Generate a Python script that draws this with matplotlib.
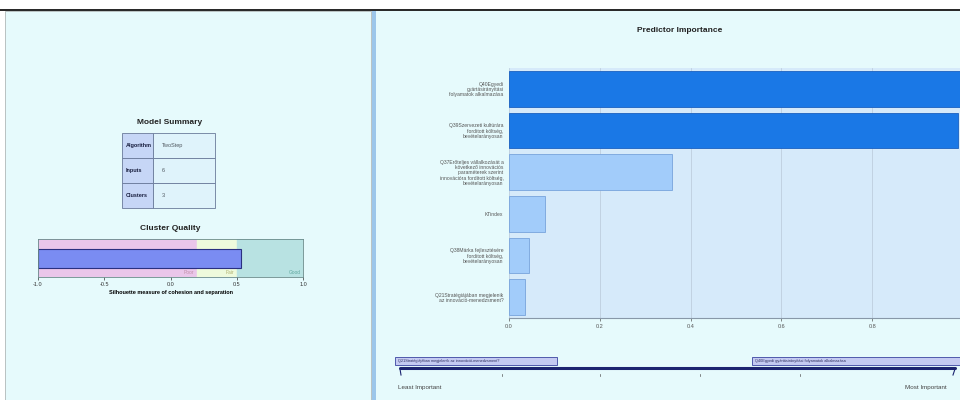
import matplotlib
matplotlib.use("Agg")
import matplotlib.pyplot as plt
from matplotlib.patches import Rectangle

plt.rcParams["font.family"] = ["Liberation Sans", "DejaVu Sans"]

W, H = 960, 400

# --- data -------------------------------------------------------------
predictors = [
    "Q40Egyedi\ngyártásirányítási\nfolyamatok alkalmazása",
    "Q39Szervezeti kultúrára\nfordított költség,\nbevételarányosan",
    "Q37Erőteljes vállalkozását a\nkövetkező innovációs\nparaméterek szerint\ninnovációra fordított költség,\nbevételarányosan",
    "KTindex",
    "Q38Márka fejlesztésére\nfordított költség,\nbevételarányosan",
    "Q21Stratégiájában megjelenik\naz innováció-menedzsment?",
]
importance = [1.0, 0.99, 0.36, 0.08, 0.045, 0.035]
imp_ticks = [0.0, 0.2, 0.4, 0.6, 0.8]

summary_rows = ["Algorithm", "Inputs", "Clusters"]
summary_vals = ["TwoStep", "6", "3"]

silhouette = 0.53
quality_bands = [("Poor", -1.0, 0.2), ("Fair", 0.2, 0.5), ("Good", 0.5, 1.0)]
quality_ticks = [-1.0, -0.5, 0.0, 0.5, 1.0]

slider_ticks = [502, 600, 700, 800]

BG = "#e6fafc"
DARK = "#1a78e6"
LIGHT = "#a2ccfa"


def px_axes(fig, x0, y0, x1, y1, **kw):
    return fig.add_axes([x0 / W, 1 - y1 / H, (x1 - x0) / W, (y1 - y0) / H], **kw)


fig = plt.figure(figsize=(W / 100, H / 100), dpi=100, facecolor="white")

# overlay for panels, table and slider (pixel coordinates)
ov = px_axes(fig, 0, 0, W, H)
ov.set_xlim(0, W)
ov.set_ylim(H, 0)
ov.axis("off")
ov.plot([0, W], [10, 10], color="black", lw=1.2)
ov.add_patch(Rectangle((5, 11), 366, 389, facecolor=BG, edgecolor="#b0b8b8", lw=0.6))
ov.add_patch(Rectangle((376, 11), 584, 389, facecolor=BG, edgecolor="none"))
ov.add_patch(Rectangle((371.5, 11), 4, 389, facecolor="#9cc6ea", edgecolor="none"))

# model summary table
ov.text(170, 122, "Model Summary", ha="center", va="center", fontsize=6, fontweight="bold", color="#222222")
tx0, tx1, tx2, ty0, rh = 122, 153, 215, 133, 25
for i, (lab, val) in enumerate(zip(summary_rows, summary_vals)):
    y = ty0 + i * rh
    ov.add_patch(Rectangle((tx0, y), tx1 - tx0, rh, facecolor="#c6d6f6", edgecolor="#6a7a9a", lw=0.6))
    ov.add_patch(Rectangle((tx1, y), tx2 - tx1, rh, facecolor="#dff3fb", edgecolor="#6a7a9a", lw=0.6))
    ov.text(tx0 + 4, y + rh / 2, lab, ha="left", va="center", fontsize=4, fontweight="bold", color="#1a2040")
    ov.text(tx1 + 9, y + rh / 2, val, ha="left", va="center", fontsize=4, color="#505860")

ov.text(170, 228, "Cluster Quality", ha="center", va="center", fontsize=6, fontweight="bold", color="#222222")

# slider
ov.plot([400, 955], [368, 368], color="#1c2470", lw=2.2, solid_capstyle="round")
for sx in slider_ticks:
    ov.plot([sx, sx], [374, 376], color="#555555", lw=0.5)
ov.plot([400, 401], [369, 375], color="#1c2470", lw=0.8)
ov.plot([955, 953], [369, 375], color="#1c2470", lw=0.8)
ov.add_patch(Rectangle((395, 357), 162, 8, facecolor="#c4caf2", edgecolor="#3a44a0", lw=0.6))
ov.text(398, 361, predictors[-1].replace("\n", " "), ha="left", va="center", fontsize=2.8, color="#303060")
ov.add_patch(Rectangle((752, 357), 212, 8, facecolor="#c4caf2", edgecolor="#3a44a0", lw=0.6))
ov.text(755, 361, predictors[0].replace("\n", " "), ha="left", va="center", fontsize=2.8, color="#303060")
ov.text(398, 388, "Least Important", ha="left", va="center", fontsize=4.5, color="#444444")
ov.text(905, 388, "Most Important", ha="left", va="center", fontsize=4.5, color="#444444")

ov.text(680, 31, "Predictor Importance", ha="center", va="center", fontsize=6, fontweight="bold", color="#222222")

# cluster quality chart
cq = px_axes(fig, 38, 239, 303, 277)
for name, lo, hi in quality_bands:
    col = {"Poor": "#eac6ea", "Fair": "#eefadc", "Good": "#b8e2e2"}[name]
    tcol = {"Poor": "#c090a8", "Fair": "#b0b070", "Good": "#60a8a0"}[name]
    cq.axvspan(lo, hi, color=col, zorder=0)
    cq.text(hi - 0.02, 0.04, name, ha="right", va="bottom", fontsize=3.5, color=tcol,
            transform=cq.get_xaxis_transform())
cq.barh([0], [silhouette + 1.0], left=-1.0, height=0.5, color="#7a8cf2", edgecolor="#2a3080", lw=0.8, zorder=2)
cq.set_xlim(-1.0, 1.0)
cq.set_ylim(-0.5, 0.5)
cq.set_yticks([])
cq.set_xticks(quality_ticks)
cq.set_xticklabels([f"{t:.1f}" for t in quality_ticks])
cq.tick_params(axis="x", labelsize=4, length=2, width=0.5, pad=1.5, colors="#333333")
for s in cq.spines.values():
    s.set_color("#6a8a8a")
    s.set_linewidth(0.6)
cq.set_xlabel("Silhouette measure of cohesion and separation", fontsize=4, fontweight="bold", labelpad=2)

# predictor importance chart
pi = px_axes(fig, 509, 68, 963, 318)
ypos = list(range(len(predictors)))
colors = [DARK if v > 0.5 else LIGHT for v in importance]
edges = ["#1a60c0" if v > 0.5 else "#78a4dc" for v in importance]
pi.set_facecolor("#d6eafa")
pi.barh(ypos, importance, height=0.86, color=colors, edgecolor=edges, lw=0.6, zorder=2)
pi.set_xlim(0, 1.0)
pi.set_ylim(len(predictors) - 0.5, -0.5)
pi.set_xticks(imp_ticks)
pi.set_xticklabels([f"{t:.1f}" for t in imp_ticks])
pi.grid(axis="x", color="#b8c8d8", lw=0.5, zorder=0)
pi.set_yticks(ypos)
pi.set_yticklabels(predictors, fontsize=3.6, color="#555555", linespacing=1.1)
pi.tick_params(axis="y", length=0, pad=4)
pi.tick_params(axis="x", labelsize=4, length=2, width=0.5, pad=2, colors="#555555")
for k, s in pi.spines.items():
    s.set_visible(k == "bottom")
pi.spines["bottom"].set_color("#8898a8")

fig.savefig("out.png", dpi=100, facecolor="white")
